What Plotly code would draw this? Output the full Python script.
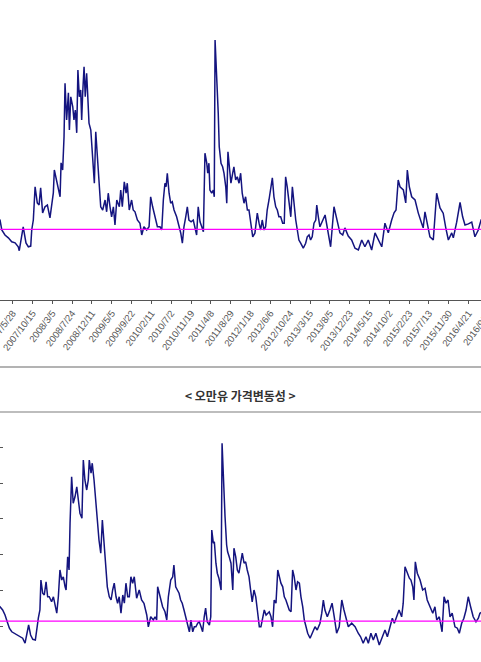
import plotly.graph_objects as go

# ---------------- data (trading-day index from 2007/5/28, volatility %) ----------------
tick_idx = [0, 100, 200, 300, 400, 500, 600, 700, 800, 900, 1000, 1100, 1200,
            1300, 1400, 1500, 1600, 1700, 1800, 1900, 2000, 2100, 2200, 2300]
tick_labels = ["2007/5/28", "2007/10/15", "2008/3/5", "2008/7/24", "2008/12/11",
               "2009/5/5", "2009/9/22", "2010/2/11", "2010/7/2", "2010/11/19",
               "2011/4/8", "2011/8/29", "2012/1/18", "2012/6/6", "2012/10/24",
               "2013/3/15", "2013/8/5", "2013/12/23", "2014/5/15", "2014/10/2",
               "2015/2/23", "2015/7/13", "2015/11/30", "2016/4/21"]
next_tick_idx = 2400
next_tick_label = "2016/9/13"

top_x = [-80, -64, -55, -39, -22, -5, 12, 28, 33, 45, 53, 67, 79, 91, 96, 104, 113, 124, 133, 141,
         151, 163, 175, 188, 197, 205, 210, 222, 230, 239, 244, 252, 259, 264, 272, 281, 286, 293,
         303, 309, 316, 323, 329, 336, 343, 348, 353, 360, 366, 373, 378, 385, 394, 404, 412, 419,
         427, 434, 444, 454, 466, 474, 482, 491, 499, 508, 516, 525, 538, 545, 553, 563, 572, 578,
         588, 600, 608, 617, 629, 642, 651, 662, 676, 688, 696, 706, 718, 730, 743, 752, 760, 768,
         774, 780, 789, 797, 805, 814, 827, 839, 848, 856, 864, 873, 881, 889, 900, 911, 920, 928,
         936, 945, 954, 962, 970, 979, 984, 990, 995, 1004, 1012, 1017, 1021, 1029, 1037, 1042,
         1051, 1059, 1066, 1075, 1080, 1086, 1093, 1101, 1110, 1116, 1125, 1133, 1142, 1150, 1158,
         1167, 1175, 1184, 1192, 1201, 1211, 1222, 1234, 1243, 1251, 1259, 1268, 1276, 1284, 1293,
         1302, 1310, 1318, 1327, 1335, 1343, 1352, 1362, 1370, 1377, 1385, 1394, 1403, 1411, 1419,
         1428, 1436, 1444, 1453, 1466, 1478, 1486, 1495, 1503, 1511, 1520, 1529, 1534, 1542, 1550,
         1576, 1592, 1604, 1621, 1638, 1651, 1665, 1676, 1693, 1710, 1727, 1744, 1761, 1777, 1794,
         1811, 1828, 1844, 1862, 1878, 1895, 1912, 1924, 1934, 1945, 1954, 1971, 1983, 1991, 2001,
         2013, 2030, 2046, 2063, 2071, 2080, 2095, 2105, 2122, 2139, 2156, 2172, 2185, 2198, 2215,
         2223, 2240, 2257, 2270, 2282, 2299, 2316, 2332, 2349, 2363, 2375]
top_v = [24.5, 24.0, 21.2, 19.8, 19.0, 17.9, 17.6, 16.5, 15.4, 19.3, 22.1, 17.6, 16.5, 16.7, 21.2,
         24.0, 33.3, 28.8, 28.2, 33.0, 26.0, 27.7, 28.2, 24.6, 28.8, 31.6, 38.0, 35.2, 33.3, 30.5,
         40.0, 38.0, 47.3, 62.3, 52.0, 59.6, 49.2, 58.5, 55.7, 52.0, 54.8, 48.4, 66.0, 58.5, 60.4,
         52.0, 59.5, 66.9, 58.5, 65.1, 59.5, 51.1, 49.2, 41.7, 34.3, 48.7, 41.7, 34.3, 27.7, 26.8,
         29.6, 26.3, 31.5, 27.7, 24.9, 27.7, 22.6, 29.6, 27.7, 32.4, 27.7, 34.7, 31.5, 34.3, 26.8,
         29.6, 26.8, 26.3, 24.0, 23.1, 19.8, 22.1, 21.2, 22.1, 30.5, 27.7, 24.9, 22.1, 22.1, 21.2,
         29.6, 34.3, 33.3, 37.1, 31.5, 28.7, 29.1, 26.8, 24.9, 22.1, 20.3, 17.5, 22.1, 24.9, 27.7,
         24.0, 23.5, 24.0, 22.1, 19.8, 27.7, 23.5, 22.1, 20.7, 42.7, 39.9, 37.1, 39.9, 32.4, 31.5,
         32.4, 30.5, 74.4, 66.0, 53.9, 44.5, 39.9, 38.9, 37.1, 33.3, 28.7, 43.1, 38.9, 34.3, 37.1,
         38.9, 35.2, 36.1, 34.3, 37.1, 31.5, 28.7, 30.5, 26.8, 26.8, 23.1, 19.3, 20.3, 25.9, 23.1,
         21.2, 24.0, 21.2, 22.1, 26.8, 29.6, 33.3, 35.8, 30.5, 27.7, 26.8, 24.9, 24.9, 23.1, 23.1,
         36.1, 33.3, 28.7, 24.9, 33.3, 28.7, 24.0, 21.2, 18.4, 17.5, 16.1, 17.5, 19.3, 19.8, 18.4,
         19.3, 23.1, 24.0, 28.2, 24.9, 22.1, 25.4, 20.4, 16.5, 27.7, 23.1, 20.4, 19.8, 21.8, 19.5,
         18.4, 16.1, 15.6, 18.4, 16.5, 18.4, 15.6, 20.4, 18.4, 16.5, 23.1, 20.4, 24.0, 26.0, 26.8,
         35.2, 33.3, 32.4, 28.8, 38.0, 33.3, 30.5, 29.6, 26.0, 23.1, 21.8, 26.3, 22.6, 19.3, 18.4,
         31.5, 27.4, 25.9, 21.8, 18.4, 20.4, 19.0, 23.4, 28.9, 24.9, 22.6, 22.9, 23.4, 19.3, 21.2,
         24.0, 25.0]
top_mean = 21.4

bot_x = [-110, -100, -87, -75, -64, -53, -41, -30, -16, 1, 14, 26, 34, 44, 54, 65, 78, 85, 93, 101,
         106, 115, 123, 132, 140, 148, 160, 169, 177, 186, 194, 202, 211, 219, 228, 233, 241, 248,
         253, 261, 269, 278, 287, 295, 303, 313, 320, 328, 337, 345, 350, 359, 365, 374, 382, 390,
         399, 408, 416, 424, 433, 441, 451, 460, 468, 476, 485, 493, 501, 510, 519, 527, 535, 544,
         552, 560, 569, 577, 589, 602, 614, 626, 640, 648, 660, 673, 682, 690, 695, 707, 720, 732,
         741, 749, 761, 771, 777, 786, 794, 803, 811, 819, 828, 836, 847, 855, 863, 872, 880, 888,
         897, 905, 914, 922, 930, 937, 945, 956, 963, 968, 976, 981, 989, 996, 1004, 1010, 1015,
         1020, 1026, 1035, 1043, 1048, 1056, 1065, 1074, 1080, 1089, 1097, 1105, 1114, 1122, 1131,
         1139, 1147, 1156, 1164, 1172, 1181, 1190, 1198, 1208, 1216, 1225, 1233, 1242, 1250, 1258,
         1267, 1275, 1283, 1292, 1301, 1309, 1317, 1326, 1334, 1342, 1351, 1359, 1368, 1376, 1384,
         1393, 1401, 1410, 1418, 1427, 1435, 1443, 1452, 1464, 1477, 1489, 1500, 1514, 1523, 1531,
         1539, 1551, 1564, 1575, 1586, 1598, 1611, 1624, 1635, 1645, 1657, 1674, 1691, 1707, 1719,
         1732, 1746, 1758, 1771, 1783, 1796, 1813, 1830, 1842, 1854, 1867, 1879, 1889, 1901, 1913,
         1926, 1934, 1943, 1954, 1965, 1973, 1982, 1988, 1995, 2005, 2019, 2032, 2044, 2055, 2069,
         2083, 2094, 2103, 2116, 2130, 2140, 2150, 2160, 2170, 2181, 2195, 2207, 2217, 2229, 2240,
         2251, 2262, 2274, 2287, 2301, 2313, 2321, 2335]
bot_v = [25.8, 25.4, 24.5, 23.1, 21.2, 19.4, 18.4, 18.0, 17.5, 17.0, 16.6, 15.2, 17.5, 20.3, 17.5,
         16.3, 16.1, 19.8, 22.2, 24.5, 32.9, 29.2, 28.7, 32.4, 28.2, 28.2, 26.8, 28.2, 26.4, 23.6,
         28.2, 35.7, 32.9, 33.8, 31.0, 30.1, 39.4, 35.7, 48.8, 61.8, 54.4, 56.2, 59.0, 55.3, 51.6,
         50.2, 66.5, 60.9, 58.1, 60.9, 66.5, 62.8, 65.6, 60.9, 54.4, 50.2, 44.1, 40.4, 49.7, 44.1,
         37.6, 31.0, 28.2, 27.3, 30.1, 32.0, 28.2, 26.4, 28.2, 23.6, 28.7, 26.4, 32.0, 28.2, 28.2,
         33.8, 32.0, 33.8, 27.8, 30.1, 27.3, 26.4, 23.1, 19.8, 22.6, 21.7, 22.6, 21.7, 31.0, 28.2,
         25.4, 24.0, 21.7, 28.2, 32.9, 33.8, 37.1, 31.0, 30.1, 29.2, 27.3, 26.4, 24.5, 22.6, 19.8,
         18.4, 21.7, 18.4, 19.8, 19.8, 20.8, 21.2, 19.8, 18.4, 22.6, 25.0, 21.2, 20.3, 22.6, 46.9,
         43.2, 43.6, 37.6, 34.8, 33.4, 32.0, 30.1, 71.2, 60.9, 50.6, 42.7, 40.8, 39.4, 37.6, 30.1,
         41.8, 39.4, 35.7, 34.8, 37.6, 40.4, 37.6, 38.0, 35.7, 33.8, 30.1, 26.8, 30.1, 28.2, 24.5,
         19.8, 19.8, 22.6, 24.5, 23.1, 23.6, 24.0, 22.6, 19.8, 27.3, 26.4, 35.7, 33.8, 32.0, 31.0,
         28.2, 27.3, 25.4, 24.5, 24.0, 35.7, 33.8, 30.1, 32.4, 32.0, 28.2, 25.4, 21.7, 19.8, 18.0,
         16.6, 18.4, 19.8, 18.9, 20.8, 23.6, 27.3, 24.5, 22.6, 24.5, 26.4, 22.6, 18.0, 19.8, 27.3,
         24.5, 22.6, 19.8, 20.8, 19.8, 18.0, 17.0, 15.2, 17.0, 15.2, 18.0, 16.1, 18.0, 14.7, 17.0,
         18.9, 17.0, 19.8, 22.2, 20.8, 22.6, 24.5, 22.6, 26.4, 36.6, 34.8, 33.4, 32.9, 31.0, 27.3,
         38.0, 34.8, 32.9, 30.1, 30.6, 27.3, 25.4, 23.6, 25.4, 21.7, 22.6, 18.4, 28.2, 26.4, 27.3,
         22.6, 23.6, 19.8, 19.4, 18.0, 20.8, 22.2, 24.5, 28.2, 25.4, 22.6, 21.2, 22.2, 23.6, 24.0]
bot_mean = 21.4
bot_title = "< 오만유 가격변동성 >"

# ---------------- styling ----------------
W, H = 481, 662
LINE = "#14147f"
MEAN = "#ff00ff"
LABEL_FONT = dict(family="Liberation Sans, Arial, sans-serif", size=9.5, color="#555555")
TOP_XRANGE = [-64.1, 2362.7]

fig = go.Figure()
fig.add_trace(go.Scatter(x=top_x, y=top_v, mode="lines", xaxis="x", yaxis="y",
                         line=dict(color=LINE, width=1.5), hoverinfo="skip"))
fig.add_trace(go.Scatter(x=[top_x[0], top_x[-1]], y=[top_mean, top_mean], mode="lines",
                         xaxis="x", yaxis="y", line=dict(color=MEAN, width=1.2), hoverinfo="skip"))
fig.add_trace(go.Scatter(x=bot_x, y=bot_v, mode="lines", xaxis="x2", yaxis="y2",
                         line=dict(color=LINE, width=1.5), hoverinfo="skip"))
fig.add_trace(go.Scatter(x=[bot_x[0], bot_x[-1]], y=[bot_mean, bot_mean], mode="lines",
                         xaxis="x2", yaxis="y2", line=dict(color=MEAN, width=1.2), hoverinfo="skip"))

top_dom = [(H - 300) / H, 1.0]
bot_dom = [0.0, (H - 415) / H]

# the next (off-range) tick label, placed in paper units from the same axis scale
next_paper_x = (next_tick_idx - TOP_XRANGE[0]) / (TOP_XRANGE[1] - TOP_XRANGE[0])

fig.update_layout(
    width=W, height=H, margin=dict(l=0, r=0, t=0, b=0, autoexpand=False),
    paper_bgcolor="white", plot_bgcolor="white", showlegend=False,
    xaxis=dict(domain=[0, 1], anchor="y", range=TOP_XRANGE, automargin=False,
               tickmode="array", tickvals=tick_idx, ticktext=tick_labels,
               tickangle=-53, ticks="outside", ticklen=3, tickcolor="#555555",
               showline=True, linecolor="#555555", linewidth=1,
               ticklabeloverflow="allow",
               showgrid=False, zeroline=False, tickfont=LABEL_FONT),
    yaxis=dict(domain=top_dom, anchor="x", range=[1.6, 85.6], visible=False, automargin=False),
    xaxis2=dict(domain=[0, 1], anchor="y2", range=[-100.4, 2326.4], visible=False,
                automargin=False),
    yaxis2=dict(domain=bot_dom, anchor="x2", range=[9.94, 79.1], automargin=False,
                tickmode="linear", tick0=0, dtick=10, ticks="inside", ticklen=3,
                tickcolor="#555555", showticklabels=False, showline=False,
                showgrid=False, zeroline=False),
    shapes=[
        dict(type="line", xref="paper", yref="paper", x0=0, x1=1,
             y0=(H - 367) / H, y1=(H - 367) / H, line=dict(color="#9a9a9a", width=1.5)),
        dict(type="line", xref="paper", yref="paper", x0=0, x1=1,
             y0=(H - 412) / H, y1=(H - 412) / H, line=dict(color="#bdbdbd", width=2)),
    ],
    annotations=[
        dict(x=0.5, y=(H - 395) / H, xref="paper", yref="paper", showarrow=False,
             text="<b>" + bot_title.replace("<", "&lt;").replace(">", "&gt;") + "</b>",
             font=dict(family="Noto Sans CJK KR", size=12, color="#333333"),
             xanchor="center", yanchor="middle"),
        dict(x=next_paper_x, y=top_dom[0], xref="paper", yref="paper", showarrow=False,
             text=next_tick_label, textangle=-53, font=LABEL_FONT,
             xanchor="right", yanchor="top", xshift=9, yshift=-5),
    ],
)

fig.write_html("out.html")
